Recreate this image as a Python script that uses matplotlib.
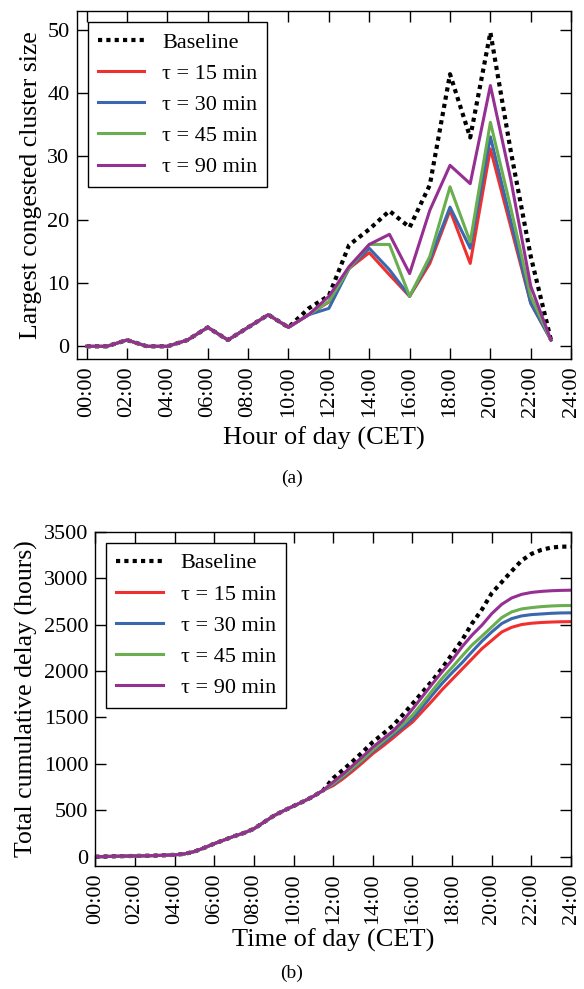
import numpy as np
import matplotlib
matplotlib.use("Agg")
from matplotlib import pyplot as plt

plt.rcParams['font.family'] = ['Liberation Serif', 'DejaVu Serif']

# (a) largest congested cluster size, hourly
hours = list(range(24))
cl_base = [0, 0, 1, 0, 0, 1, 3, 1, 3, 5, 3, 6, 8, 16, 18.5, 21.4, 18.8, 25.5, 43, 33, 49.6, 31, 14.2, 1]
cl_15 = [0, 0, 1, 0, 0, 1, 3, 1, 3, 5, 3, 5, 7, 12.3, 14.8, 11.3, 7.9, 13.1, 21.5, 13.1, 31.2, 19, 6.8, 1]
cl_30 = [0, 0, 1, 0, 0, 1, 3, 1, 3, 5, 3, 5, 6, 12.3, 15.5, 12.1, 7.9, 13.7, 22.0, 15.5, 33.1, 20, 6.8, 1]
cl_45 = [0, 0, 1, 0, 0, 1, 3, 1, 3, 5, 3, 5, 7.1, 12.3, 16.1, 16.1, 7.9, 14.2, 25.2, 16.5, 35.4, 22, 7.9, 1]
cl_90 = [0, 0, 1, 0, 0, 1, 3, 1, 3, 5, 3, 5, 7.9, 12.6, 16.1, 17.7, 11.5, 21.5, 28.6, 25.7, 41.2, 26.5, 9.5, 1]

# (b) total cumulative delay (hours), every half hour
t_hours = [h / 2 for h in range(49)]
dl_early = [0, 2, 4, 6, 8, 10, 12, 15, 20, 30, 55, 95, 140, 180, 220, 255, 300, 370,
            440, 495, 545, 595, 650, 715]
dl_base = dl_early + [845, 935, 1030, 1130, 1235, 1320, 1410, 1525, 1647, 1772, 1896, 2032, 2182,
                      2332, 2511, 2661, 2839, 2957, 3075, 3189, 3261, 3304, 3329, 3339, 3339]
dl_15 = dl_early + [765, 840, 925, 1015, 1110, 1190, 1275, 1365, 1450, 1565, 1680, 1800, 1910,
                    2020, 2130, 2240, 2330, 2420, 2470, 2500, 2514, 2522, 2527, 2530, 2531]
dl_30 = dl_early + [780, 860, 950, 1040, 1135, 1220, 1305, 1390, 1485, 1611, 1743, 1868, 1982,
                    2089, 2207, 2321, 2421, 2511, 2564, 2593, 2607, 2614, 2621, 2625, 2626]
dl_45 = dl_early + [790, 870, 960, 1050, 1150, 1240, 1330, 1420, 1525, 1654, 1789, 1922, 2039,
                    2161, 2279, 2375, 2475, 2575, 2636, 2668, 2682, 2693, 2700, 2704, 2705]
dl_90 = dl_early + [805, 890, 985, 1080, 1180, 1265, 1350, 1460, 1590, 1725, 1861, 1993, 2118,
                    2261, 2386, 2493, 2618, 2718, 2786, 2825, 2846, 2857, 2864, 2868, 2870]

labels = ["Baseline", "τ = 15 min", "τ = 30 min", "τ = 45 min", "τ = 90 min"]
colors = ["black", "#F0302F", "#3A68AE", "#6AAE4F", "#952F92"]
tick_pos = list(range(0, 25, 2))
tick_lab = ["%02d:00" % h for h in tick_pos]

fig = plt.figure(figsize=(5.84, 9.89), dpi=100)
ax1 = fig.add_axes([0.131, 0.637, 0.847, 0.352])
ax2 = fig.add_axes([0.163, 0.1244, 0.815, 0.338])


def draw(ax, x, series):
    for i, (y, lab, c) in enumerate(zip(series, labels, colors)):
        if i == 0:
            ax.plot(x, y, color=c, lw=3, dashes=(1, 1), label=lab)
        else:
            ax.plot(x, y, color=c, lw=2.2, label=lab)
    ax.set_xticks(tick_pos)
    ax.set_xticklabels(tick_lab, rotation=90)
    ax.tick_params(direction="in", length=8, width=1, labelsize=16,
                   top=True, right=True, pad=5)
    for s in ax.spines.values():
        s.set_linewidth(1)
    leg = ax.legend(loc="upper left", fontsize=16, fancybox=False, framealpha=1,
                    edgecolor="black", handlelength=2.1, labelspacing=0.48,
                    handletextpad=0.8, borderpad=0.45, borderaxespad=0.5)
    leg.get_frame().set_linewidth(1)


draw(ax1, hours, [cl_base, cl_15, cl_30, cl_45, cl_90])
ax1.set_xlim(-0.5, 24)
ax1.set_ylim(-2, 53)
ax1.set_yticks([0, 10, 20, 30, 40, 50])
ax1.set_xlabel("Hour of day (CET)", fontsize=19, labelpad=7)
ax1.set_ylabel("Largest congested cluster size", fontsize=18.5, labelpad=4)

draw(ax2, t_hours, [dl_base, dl_15, dl_30, dl_45, dl_90])
ax2.set_xlim(0, 24)
ax2.set_ylim(-100, 3500)
ax2.set_yticks(range(0, 3501, 500))
ax2.set_xlabel("Time of day (CET)", fontsize=19, labelpad=4)
ax2.set_ylabel("Total cumulative delay (hours)", fontsize=18.5, labelpad=4)

fig.text(0.5, 1 - 478 / 989, "(a)", ha="center", va="center", fontsize=14)
fig.text(0.5, 1 - 973 / 989, "(b)", ha="center", va="center", fontsize=14)

fig.savefig("out.png", dpi=100)
